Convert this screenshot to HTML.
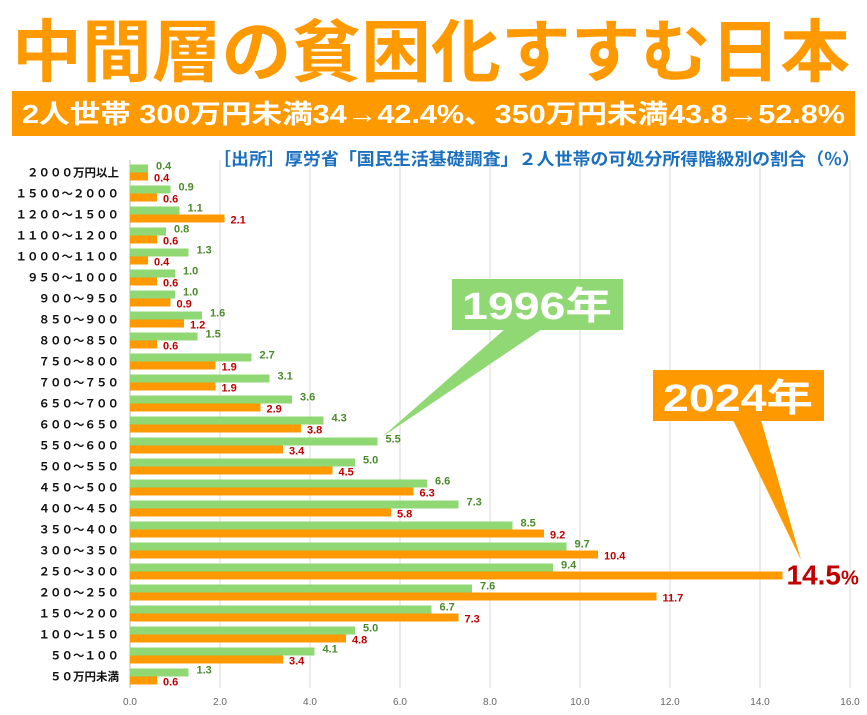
<!DOCTYPE html>
<html><head><meta charset="utf-8"><style>
body{margin:0;background:#fff;}
svg{display:block;font-family:"Liberation Sans","Noto Sans CJK JP",sans-serif;}
</style></head><body>
<svg id="chart" width="867" height="715" viewBox="0 0 867 715" xmlns="http://www.w3.org/2000/svg">
<text x="12" y="76" font-size="68" font-weight="bold" fill="#ff9900" textLength="838" lengthAdjust="spacingAndGlyphs" font-family="'Noto Sans CJK JP',sans-serif">中間層の貧困化すすむ日本</text>
<rect x="12" y="91" width="843" height="45" fill="#ff9900"/>
<text x="22" y="123" font-size="26" font-weight="bold" fill="#fff" textLength="823" lengthAdjust="spacingAndGlyphs">2人世帯 300万円未満34→42.4%、350万円未満43.8→52.8%</text>
<text x="213" y="165" font-size="17" font-weight="bold" fill="#1a6fbf" textLength="647" lengthAdjust="spacingAndGlyphs">［出所］厚労省「国民生活基礎調査」２人世帯の可処分所得階級別の割合（％）</text>
<g id="grid"></g>
<g id="bars"></g>
<g id="callouts">
<polygon points="505,329 542,329 382,437" fill="#8fd873"/>
<rect x="452" y="279" width="171" height="51" fill="#8fd873"/>
<text x="537" y="319" font-size="38" font-weight="bold" fill="#fff" text-anchor="middle" textLength="150" lengthAdjust="spacingAndGlyphs">1996年</text>
<polygon points="733,420 761,420 801,560" fill="#ff9900"/>
<rect x="653" y="370" width="171" height="51" fill="#ff9900"/>
<text x="738" y="411" font-size="38" font-weight="bold" fill="#fff" text-anchor="middle" textLength="150" lengthAdjust="spacingAndGlyphs">2024年</text>
</g>
</svg>
<script>
const categories=["２０００万円以上","１５００～２０００","１２００～１５００","１１００～１２００","１０００～１１００","９５０～１０００","９００～９５０","８５０～９００","８００～８５０","７５０～８００","７００～７５０","６５０～７００","６００～６５０","５５０～６００","５００～５５０","４５０～５００","４００～４５０","３５０～４００","３００～３５０","２５０～３００","２００～２５０","１５０～２００","１００～１５０","５０～１００","５０万円未満"];
const values1996=[0.4,0.9,1.1,0.8,1.3,1.0,1.0,1.6,1.5,2.7,3.1,3.6,4.3,5.5,5.0,6.6,7.3,8.5,9.7,9.4,7.6,6.7,5.0,4.1,1.3];
const values2024=[0.4,0.6,2.1,0.6,0.4,0.6,0.9,1.2,0.6,1.9,1.9,2.9,3.8,3.4,4.5,6.3,5.8,9.2,10.4,14.5,11.7,7.3,4.8,3.4,0.6];
const ticks=[0,2,4,6,8,10,12,14,16];
const NS="http://www.w3.org/2000/svg";
const x=v=>130+v*45;
const rowY=i=>164.5+i*21;
function mk(tag,attrs,parent,txt){const e=document.createElementNS(NS,tag);for(const k in attrs)e.setAttribute(k,attrs[k]);if(txt!=null)e.textContent=txt;parent.appendChild(e);return e;}
const grid=document.getElementById('grid'),bars=document.getElementById('bars');
ticks.forEach(t=>{
  const l=mk('line',{x1:x(t),x2:x(t),y1:160,y2:688,stroke:t===0?'#bbb':'#d9d9d9','stroke-width':1},grid);
  
  
  const tx=mk('text',{x:x(t),y:705,'font-size':10,fill:'#666','text-anchor':'middle'},grid,t.toFixed(1));
  
  
});
categories.forEach((c,i)=>{
  const y=rowY(i);
  const lb=mk('text',{x:119,y:y+12,'font-size':11.5,'font-weight':'bold',fill:'#111','text-anchor':'end'},bars,c);
  
  
  const g=mk('rect',{x:x(0),y:y,width:x(values1996[i])-x(0),height:8,fill:'#8fd873'},bars);
  
  
  const o=mk('rect',{x:x(0),y:y+8,width:x(values2024[i])-x(0),height:8,fill:'#ff9900'},bars);
  
  
  const gl=mk('text',{x:x(values1996[i])+8,y:y+5,'font-size':11,'font-weight':'bold',fill:'#4a8a2a'},bars,values1996[i].toFixed(1));
  
  
  if(values2024[i]>=14){
    const ol=mk('text',{x:x(values2024[i])+4,y:y+21,'font-size':28,'font-weight':'bold',fill:'#c00000'},bars);
    
    
    ol.textContent=values2024[i].toFixed(1);
    mk('tspan',{'font-size':20},ol,'%');
  }else{
    const ol=mk('text',{x:x(values2024[i])+6,y:y+17,'font-size':11,'font-weight':'bold',fill:'#c00000'},bars,values2024[i].toFixed(1));
    
    
  }
});
</script>
</body></html>
